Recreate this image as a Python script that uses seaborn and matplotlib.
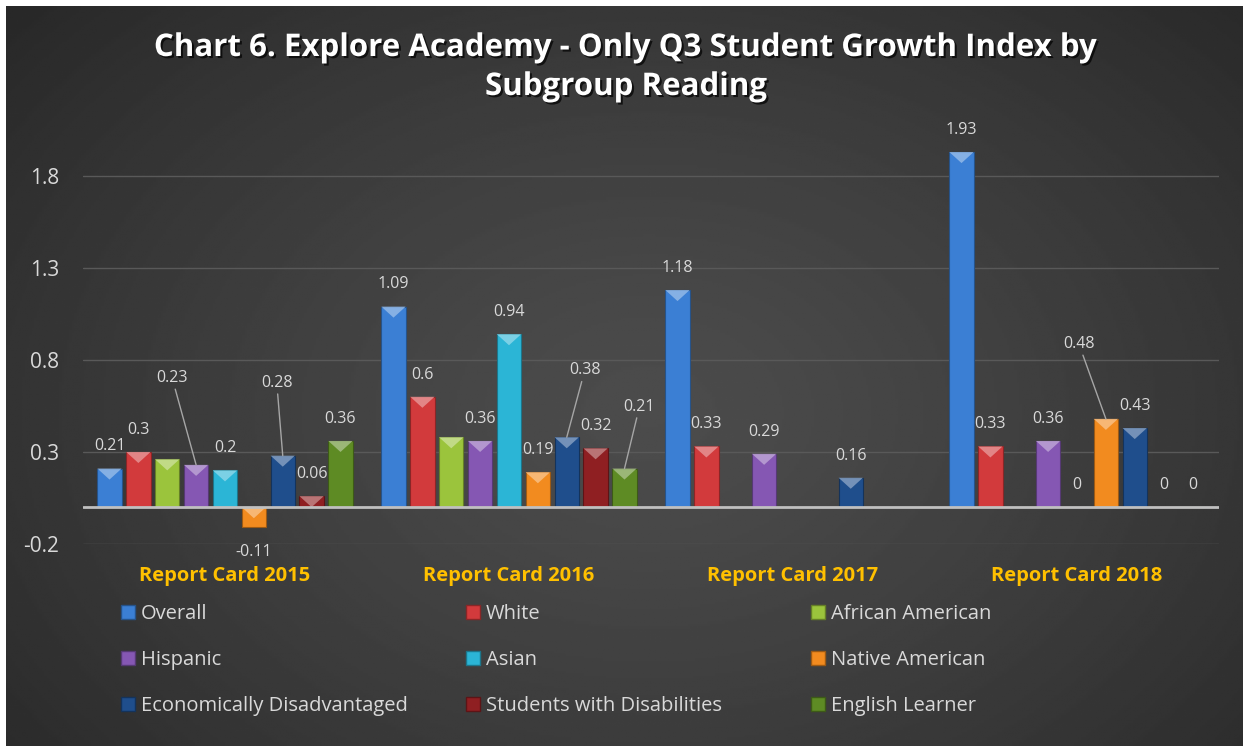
import numpy as np
import pandas as pd
import matplotlib
matplotlib.use("Agg")
import matplotlib.pyplot as plt
import matplotlib.patheffects as pe
from matplotlib.patches import Patch, Polygon
from matplotlib.colors import to_rgb
import seaborn as sns

# data (nan = no bar)
years = ["Report Card 2015", "Report Card 2016", "Report Card 2017", "Report Card 2018"]
subgroups = ["Overall", "White", "African American", "Hispanic", "Asian",
             "Native American", "Economically Disadvantaged",
             "Students with Disabilities", "English Learner"]
overall = [0.21, 1.09, 1.18, 1.93]
white = [0.30, 0.60, 0.33, 0.33]
african_american = [0.26, 0.38, np.nan, np.nan]
hispanic = [0.23, 0.36, 0.29, 0.36]
asian = [0.20, 0.94, np.nan, 0.0]
native_american = [-0.11, 0.19, np.nan, 0.48]
econ_disadv = [0.28, 0.38, 0.16, 0.43]
disabilities = [0.06, 0.32, np.nan, 0.0]
english_learner = [0.36, 0.21, np.nan, 0.0]
series = [overall, white, african_american, hispanic, asian,
          native_american, econ_disadv, disabilities, english_learner]

colors = ["#3b7fd4", "#d23a3c", "#9bc43c", "#8557b3", "#2bb5d6",
          "#f28b1f", "#1f4e8c", "#8f1f22", "#5e8b24"]

# labels that Excel hid or moved with a leader line (offsets in px, y down)
hidden = {("African American", 0), ("African American", 1)}
leaders = {("Hispanic", 0): (-24, -87),
           ("Economically Disadvantaged", 0): (-6, -73),
           ("Economically Disadvantaged", 1): (18, -67),
           ("English Learner", 1): (15, -62),
           ("Native American", 3): (-27, -75)}

rows = []
for name, vals in zip(subgroups, series):
    for year, v in zip(years, vals):
        rows.append({"Year": year, "Subgroup": name, "Index": v})
df = pd.DataFrame(rows)

sns.set_theme(style="dark")
plt.rcParams["font.family"] = ["Open Sans", "DejaVu Sans"]

W, H = 1243, 746
fig = plt.figure(figsize=(W / 100, H / 100), dpi=100, facecolor="white")


def darker(c, f=0.65):
    return tuple(v * f for v in to_rgb(c))


def lighter(c, f=0.45):
    return tuple(v + (1 - v) * f for v in to_rgb(c))


# dark radial background
bg = fig.add_axes([6 / W, 0, 1 - 6 / W, 1 - 6 / H])
yy, xx = np.mgrid[0:1:300j, 0:1:500j]
r = np.clip(np.sqrt(((xx - 0.52) / 0.75) ** 2 + ((yy - 0.55) / 0.9) ** 2), 0, 1)
shade = 76 - (76 - 36) * r ** 1.3
bg.imshow(shade, cmap="gray", vmin=0, vmax=255, aspect="auto", extent=(0, 1, 0, 1))
bg.axis("off")

ax = fig.add_axes([83 / W, 1 - 544 / H, 1136 / W, (544 - 130) / H])
ax.patch.set_alpha(0)

sns.barplot(data=df, x="Year", y="Index", hue="Subgroup", order=years,
            hue_order=subgroups, palette=colors, saturation=1, width=0.915, gap=0.16,
            errorbar=None, legend=False, ax=ax, zorder=2)

ax.set_xlim(-0.5, 3.5)
ax.set_ylim(-0.2, 2.05)
ax.set_yticks([-0.2, 0.3, 0.8, 1.3, 1.8])
ax.set_yticklabels(["-0.2", "0.3", "0.8", "1.3", "1.8"])
ax.yaxis.grid(True, color="#595959", lw=1)
ax.xaxis.grid(False)
ax.set_axisbelow(True)
for s in ax.spines.values():
    s.set_visible(False)
ax.set_xlabel("")
ax.set_ylabel("")
ax.tick_params(axis="y", length=0, pad=17, labelsize=15, labelcolor="#d9d9d9")
ax.tick_params(axis="x", length=0, pad=16)
ax.set_xticks(range(len(years)))
ax.set_xticklabels(years, color="#ffc000", fontweight="bold", fontsize=14.5)
ax.axhline(0, color="#c0c0c0", lw=2, zorder=4)

px = 2.25 / (544 - 130)  # data units per pixel
for i, (name, vals) in enumerate(zip(subgroups, series)):
    col = colors[i]
    for bar in ax.containers[i]:
        xc = bar.get_x() + bar.get_width() / 2
        j = int(round(xc))
        v = vals[j]
        if np.isnan(v):
            continue
        bar.set_edgecolor(darker(col))
        bar.set_linewidth(0.8)
        top = max(bar.get_y(), bar.get_y() + bar.get_height())
        hh = min(11 * px, abs(bar.get_height()))
        if hh > 0:
            x0, x1 = bar.get_x(), bar.get_x() + bar.get_width()
            ax.add_patch(Polygon([(x0, top), (x1, top), (xc, top - hh)],
                                 closed=True, facecolor=lighter(col), edgecolor="none",
                                 alpha=0.85, zorder=3))
        if (name, j) in hidden:
            continue
        txt = f"{v:g}"
        if (name, j) in leaders:
            dx, dy = leaders[(name, j)]
            ax.annotate(txt, xy=(xc, v), xytext=(dx * 0.72, -dy * 0.72),
                        textcoords="offset points", ha="center", va="center",
                        fontsize=11.5, color="#d9d9d9", zorder=5,
                        arrowprops=dict(arrowstyle="-", color="#a6a6a6", lw=1,
                                        shrinkA=0, shrinkB=0))
        elif v < 0:
            ax.annotate(txt, xy=(xc, v), xytext=(0, -18), textcoords="offset points",
                        ha="center", va="center", fontsize=11.5, color="#d9d9d9",
                        annotation_clip=False, zorder=5)
        else:
            ax.annotate(txt, xy=(xc, v), xytext=(0, 16), textcoords="offset points",
                        ha="center", va="center", fontsize=11.5, color="#d9d9d9",
                        zorder=5)

# legend: three columns, filled row by row
col_x = [121, 466, 811]
for c in range(3):
    idx = [c, c + 3, c + 6]
    handles = [Patch(facecolor=colors[k], edgecolor=darker(colors[k])) for k in idx]
    labels = [subgroups[k] for k in idx]
    fig.legend(handles, labels, loc="center left",
               bbox_to_anchor=(col_x[c] / W, 1 - 660 / H),
               frameon=False, handlelength=0.7, handleheight=0.7,
               handletextpad=0.3, labelspacing=1.3, borderpad=0,
               borderaxespad=0, fontsize=14.5, labelcolor="#d9d9d9")

shadow = [pe.withSimplePatchShadow(offset=(1.5, -1.5), shadow_rgbFace="black", alpha=0.7)]
fig.text(626 / W, 1 - 48 / H, "Chart 6. Explore Academy - Only Q3 Student Growth Index by",
         ha="center", va="center", fontsize=22.5, fontweight="bold", color="white",
         path_effects=shadow)
fig.text(626 / W, 1 - 87 / H, "Subgroup Reading",
         ha="center", va="center", fontsize=22.5, fontweight="bold", color="white",
         path_effects=shadow)

fig.savefig("out.png", dpi=100, facecolor=fig.get_facecolor())
